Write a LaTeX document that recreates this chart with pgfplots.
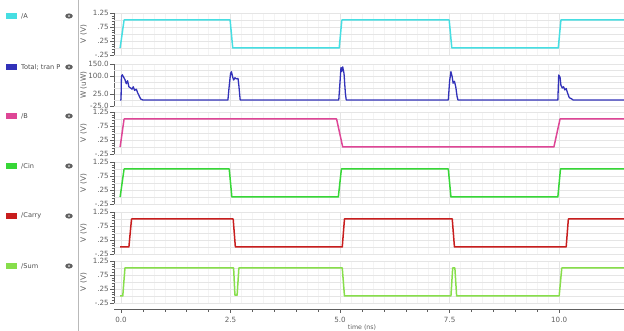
\documentclass[border=0pt]{standalone}
\usepackage{pgfplots}
\pgfplotsset{compat=1.18}
\usepackage{fontspec}
\setmainfont{DejaVu Sans}
\definecolor{cA}{RGB}{70,222,226}
\definecolor{cP}{RGB}{50,50,185}
\definecolor{cB}{RGB}{222,70,150}
\definecolor{cC}{RGB}{55,215,55}
\definecolor{cR}{RGB}{200,30,30}
\definecolor{cS}{RGB}{135,222,75}
\definecolor{tk}{RGB}{95,95,95}
\begin{document}
\begin{tikzpicture}
\useasboundingbox (0bp,0bp) rectangle (624bp,331bp);
\pgfplotsset{
  wave/.style={
    scale only axis, width=510bp, height=42bp,
    xmin=-0.16, xmax=11.48,
    anchor=north west,
    axis lines=left, axis line style={-, draw=tk, line width=0.5bp},
    x axis line style={draw=none},
    xtick={0,2.5,5,7.5,10}, xticklabels={}, minor x tick num=9,
    xtick style={draw=none},
    tick align=outside, major tick length=4bp, minor tick length=2.5bp,
    ytick style={draw=tk, line width=0.3bp},
    minor y tick num=4,
    xmajorgrids=true, xminorgrids=true, ymajorgrids=true,
    major grid style={gray!20, line width=0.4bp},
    minor grid style={gray!9, line width=0.3bp},
    yticklabel style={font=\fontsize{7.2}{8}\selectfont, text=tk, inner sep=1bp},
    /pgf/number format/assume math mode=true,
    clip=true,
    every axis plot/.append style={line width=1.5bp, line join=round},
  },
  volt/.style={wave, ymin=-0.25, ymax=1.25,
    ytick={-0.25,0.25,0.75,1.25}, yticklabels={-.25,.25,.75,1.25},
    extra y ticks={0,0.5,1}, extra y tick labels={},
    extra y tick style={major tick length=0bp, grid=major}},
}
% left panel separator
\draw[gray!55, line width=0.6bp] (78bp,0bp) -- (78bp,331bp);
% legend entries
\foreach \yy/\cc/\tt in {315/cA/{/A}, 264/cP/{Total; tran P}, 215/cB/{/B}, 165/cC/{/Cin}, 115/cR/{/Carry}, 65/cS/{/Sum}}{
  \fill[\cc] (6bp,\yy bp-3.2bp) rectangle (17bp,\yy bp+3.2bp);
  \node[anchor=west, font=\fontsize{6.6}{8}\selectfont, text=black!70, inner sep=0] at (21bp,\yy bp) {\tt};
  \fill[gray!75!black] (69bp,\yy bp) ellipse (3.8bp and 2.6bp);
  \fill[gray!35] (69bp,\yy bp) circle (1.1bp);
}
% y labels
\foreach \yy/\tt in {297/{V (V)}, 246/{W (uW)}, 198/{V (V)}, 148/{V (V)}, 98/{V (V)}, 49/{V (V)}}{
  \node[rotate=90, font=\fontsize{7.4}{8}\selectfont, text=tk, inner sep=0] at (83.5bp,\yy bp) {\tt};
}

% /A
\begin{axis}[volt, at={(114bp,318bp)}]
\addplot[cA] coordinates {(-0.02,0)(0.07,1)(2.49,1)(2.55,0)(4.98,0)(5.04,1)(7.49,1)(7.55,0)(9.98,0)(10.04,1)(11.48,1)};
\end{axis}
% Power
\begin{axis}[wave, at={(114bp,267bp)}, ymin=-25, ymax=150,
  ytick={-25,25,100,150}, yticklabels={-25.0,25.0,100.0,150.0},
  extra y ticks={0,50,75,125}, extra y tick labels={},
  extra y tick style={major tick length=0bp, grid=major}]
\addplot[cP, line width=1.3bp] coordinates {
(-0.02,0)(0.0,0)(0.01,100)(0.03,105)(0.06,95)(0.09,85)(0.12,68)(0.15,80)(0.18,55)(0.22,50)(0.25,45)(0.28,55)(0.31,40)(0.35,45)(0.38,30)(0.42,15)(0.45,4)(0.5,0)
(2.44,0)(2.47,60)(2.5,110)(2.52,118)(2.55,95)(2.57,83)(2.6,93)(2.63,88)(2.67,90)(2.69,60)(2.72,0)
(4.97,0)(5.0,80)(5.02,135)(5.04,120)(5.06,138)(5.09,110)(5.12,30)(5.14,0)
(7.47,0)(7.5,80)(7.53,118)(7.56,95)(7.58,70)(7.61,78)(7.64,55)(7.67,15)(7.69,0)
(9.97,0)(9.99,104)(10.02,95)(10.04,62)(10.07,50)(10.1,55)(10.13,42)(10.16,48)(10.19,30)(10.23,10)(10.28,5)(10.32,0)(11.48,0)};
\end{axis}
% /B
\begin{axis}[volt, at={(114bp,219bp)}]
\addplot[cB] coordinates {(-0.02,0)(0.07,1)(4.92,1)(5.06,0)(9.88,0)(10.02,1)(11.48,1)};
\end{axis}
% /Cin
\begin{axis}[volt, at={(114bp,169bp)}]
\addplot[cC] coordinates {(-0.02,0)(0.07,1)(2.47,1)(2.53,0)(4.96,0)(5.03,1)(7.47,1)(7.53,0)(9.97,0)(10.03,1)(11.48,1)};
\end{axis}
% /Carry
\begin{axis}[volt, at={(114bp,119bp)}]
\addplot[cR] coordinates {(-0.02,0)(0.18,0)(0.24,1)(2.56,1)(2.61,0)(5.05,0)(5.1,1)(7.56,1)(7.61,0)(10.16,0)(10.21,1)(11.48,1)};
\end{axis}
% /Sum
\begin{axis}[volt, at={(114bp,70bp)}]
\addplot[cS] coordinates {(-0.02,0)(0.04,0)(0.09,1)(2.57,1)(2.6,0.03)(2.65,0.03)(2.69,1)(5.05,1)(5.1,0)(7.53,0)(7.57,1)(7.62,1)(7.66,0)(10.0,0)(10.06,1)(11.48,1)};
\end{axis}
% time axis
\begin{axis}[scale only axis, width=510bp, height=1bp, at={(114bp,22bp)}, anchor=south west,
  xmin=-0.16, xmax=11.48, ymin=0, ymax=1,
  axis lines=left, axis line style={-, draw=tk, line width=0.5bp},
  y axis line style={draw=none}, ytick=\empty,
  xtick={0,2.5,5,7.5,10}, xticklabels={0.0,2.5,5.0,7.5,10.0}, minor x tick num=4,
  tick align=outside, major tick length=3.5bp, minor tick length=2.5bp,
  xtick style={draw=tk, line width=0.5bp},
  xticklabel style={font=\fontsize{7.2}{8}\selectfont, text=tk, inner sep=1bp, yshift=-3.5bp},
  /pgf/number format/assume math mode=true]
\end{axis}
\node[font=\fontsize{6.3}{7}\selectfont, text=tk, anchor=south, inner sep=0] at (362bp,0.3bp) {time (ns)};
\end{tikzpicture}
\end{document}
